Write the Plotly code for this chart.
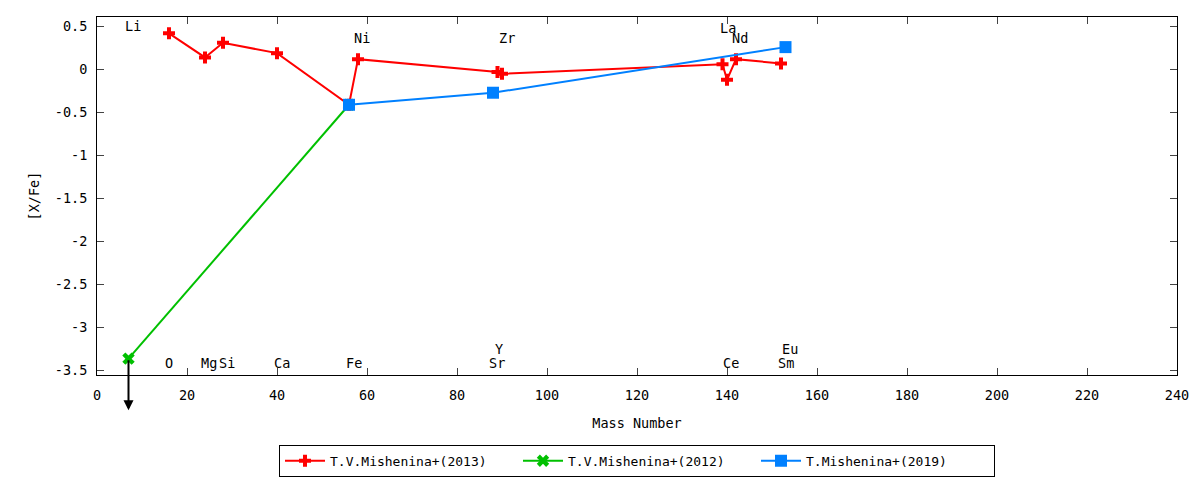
import plotly.graph_objects as go

# ---- data ----
red_name = "T.V.Mishenina+(2013)"
red_mass = [16, 24, 28, 40, 56, 58, 89, 90, 139, 140, 142, 152]
red_val = [0.42, 0.14, 0.31, 0.19, -0.41, 0.12, -0.03, -0.05, 0.06, -0.12, 0.12, 0.07]

green_name = "T.V.Mishenina+(2012)"
green_mass = [7, 56]
green_val = [-3.36, -0.41]
green_limit_len = 0.6  # length of the upper-limit arrow on the Li point (in [X/Fe])

blue_name = "T.Mishenina+(2019)"
blue_mass = [56, 88, 153]
blue_val = [-0.41, -0.27, 0.26]

label_text = ["Li", "O", "Mg", "Si", "Ca", "Fe", "Ni", "Sr", "Y", "Zr", "La", "Ce", "Nd", "Sm", "Eu"]
label_x = [8.1, 16.1, 24.9, 28.9, 41.2, 57.2, 58.9, 88.9, 89.4, 91.1, 140.3, 140.9, 142.9, 153.2, 154.0]
label_y = [0.50, -3.41, -3.41, -3.41, -3.41, -3.41, 0.37, -3.41, -3.25, 0.37, 0.48, -3.41, 0.37, -3.41, -3.25]

x_ticks = list(range(0, 241, 20))
y_ticks = [0.5, 0, -0.5, -1, -1.5, -2, -2.5, -3, -3.5]
y_tick_text = ["0.5", "0", "-0.5", "-1", "-1.5", "-2", "-2.5", "-3", "-3.5"]

FONT = "DejaVu Sans Mono"
FS = 13.5

fig = go.Figure()
fig.add_trace(go.Scatter(
    x=red_mass, y=red_val, name=red_name, mode="lines+markers",
    line=dict(color="#ff0000", width=2),
    marker=dict(symbol="cross", size=10, color="#ff0000"),
))
fig.add_trace(go.Scatter(
    x=green_mass, y=green_val, name=green_name, mode="lines+markers",
    line=dict(color="#00c000", width=2),
    marker=dict(symbol="x", size=11, color="#00c000"),
))
fig.add_trace(go.Scatter(
    x=blue_mass, y=blue_val, name=blue_name, mode="lines+markers",
    line=dict(color="#0080ff", width=2),
    marker=dict(symbol="square", size=12, color="#0080ff"),
))

# upper-limit arrow on the Li point
fig.add_annotation(
    x=green_mass[0], y=green_val[0] - green_limit_len,
    ax=green_mass[0], ay=green_val[0],
    xref="x", yref="y", axref="x", ayref="y",
    showarrow=True, arrowhead=2, arrowsize=1, arrowwidth=2, arrowcolor="black",
    text="",
)

for t, lx, ly in zip(label_text, label_x, label_y):
    fig.add_annotation(x=lx, y=ly, text=t, showarrow=False,
                       font=dict(family=FONT, size=FS, color="black"))

fig.update_layout(
    width=1200, height=480,
    margin=dict(l=97, r=23, t=17, b=105, autoexpand=False),
    paper_bgcolor="white", plot_bgcolor="white",
    font=dict(family=FONT, size=FS, color="black"),
    showlegend=True,
    legend=dict(
        orientation="h", x=0.5, xanchor="center",
        yref="container", y=0.04, yanchor="middle",
        bordercolor="black", borderwidth=1, bgcolor="white",
        font=dict(family=FONT, size=13),
        entrywidth=183, entrywidthmode="pixels",
        itemwidth=40,
    ),
    xaxis=dict(
        range=[0, 240], tickvals=x_ticks, ticks="inside", ticklen=7,
        showline=True, linecolor="black", linewidth=1, mirror="allticks",
        showgrid=False, zeroline=False,
        tickfont=dict(family=FONT, size=FS),
        ticklabelstandoff=8,
        title=dict(text="Mass Number", font=dict(family=FONT, size=FS), standoff=16),
    ),
    yaxis=dict(
        range=[-3.55, 0.61], tickvals=y_ticks, ticktext=y_tick_text,
        ticks="inside", ticklen=7,
        showline=True, linecolor="black", linewidth=1, mirror="allticks",
        showgrid=False, zeroline=False,
        tickfont=dict(family=FONT, size=FS),
        ticklabelstandoff=6,
        title=dict(text="[X/Fe]", font=dict(family=FONT, size=FS), standoff=12),
    ),
)

fig.write_html("out.html", config={"displayModeBar": False},
               post_script="document.body.style.margin='0';")
